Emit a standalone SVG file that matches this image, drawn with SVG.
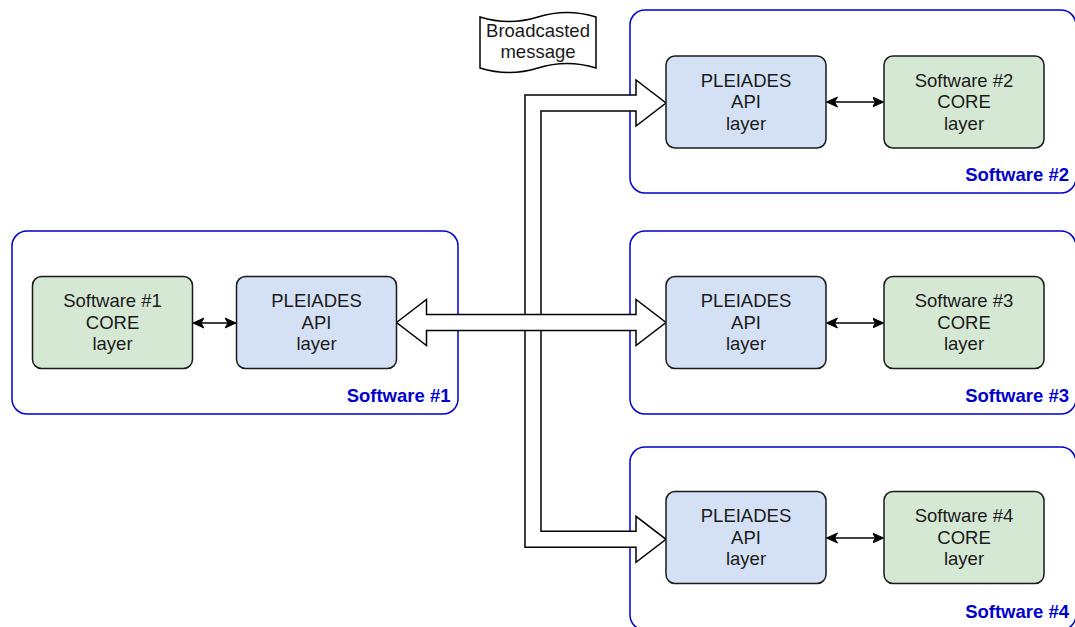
<svg xmlns="http://www.w3.org/2000/svg" width="1075" height="627" viewBox="0 0 1075 627">
  <style>
    .container { fill: none; stroke: #0000CC; stroke-width: 1.5; }
    .clabel { font-family: "Liberation Sans", Arial, sans-serif; font-size: 18.5px; font-weight: bold; fill: #0000CC; text-anchor: end; }
    .api { fill: #D4E1F5; stroke: #1a1a1a; stroke-width: 1.5; }
    .core { fill: #D5E8D4; stroke: #1a1a1a; stroke-width: 1.5; }
    .txt { font-family: "Liberation Sans", Arial, sans-serif; font-size: 18.5px; fill: #1a1a1a; text-anchor: middle; }
    .flex { fill: #ffffff; stroke: #000000; stroke-width: 1.5; stroke-linejoin: miter; }
    .link { stroke: #000000; stroke-width: 1.5; fill: none; marker-start: url(#ah); marker-end: url(#ah); }
  </style>
  <defs>
    <marker id="ah" markerUnits="userSpaceOnUse" markerWidth="14" markerHeight="12" refX="10.5" refY="5.5" orient="auto-start-reverse" viewBox="0 0 14 11">
      <path d="M0,0.5 L11,5.5 L0,10.5 L3,5.5 Z" fill="#000000" stroke="#000000" stroke-width="1"/>
    </marker>
  </defs>

  <rect width="1075" height="627" fill="#ffffff"/>

  <g id="containers">
    <g id="software1">
      <rect class="container" x="12" y="231" width="446" height="183" rx="15"/>
      <text class="clabel" x="450.5" y="402">Software #1</text>
    </g>
    <g id="software2">
      <rect class="container" x="630" y="10" width="446" height="183" rx="15"/>
      <text class="clabel" x="1069" y="181">Software #2</text>
    </g>
    <g id="software3">
      <rect class="container" x="630" y="231" width="446" height="183" rx="15"/>
      <text class="clabel" x="1069" y="402">Software #3</text>
    </g>
    <g id="software4">
      <rect class="container" x="630" y="447" width="446" height="183" rx="15"/>
      <text class="clabel" x="1069" y="618">Software #4</text>
    </g>
  </g>

  <g id="connectors">
    <path class="flex" d="M525,95 L636,95 L636,80 L666,103 L636,126 L636,111 L541,111 L541,531.3 L636,531.3 L636,516.3 L666,539.3 L636,562.3 L636,547.3 L525,547.3 Z"/>
    <path class="flex" d="M396.5,322.5 L426.5,299.5 L426.5,314.5 L636,314.5 L636,299.5 L666,322.5 L636,345.5 L636,330.5 L426.5,330.5 L426.5,345.5 Z"/>
    <line class="link" x1="193.5" y1="323" x2="235.5" y2="323"/>
    <line class="link" x1="827" y1="102" x2="883" y2="102"/>
    <line class="link" x1="827" y1="323" x2="883" y2="323"/>
    <line class="link" x1="827" y1="538" x2="883" y2="538"/>
  </g>

  <g id="broadcast">
    <path d="M480,17 Q509,26 538,17 Q567,8 596,17 L596,68 Q567,59 538,68 Q509,77 480,68 Z" fill="#ffffff" stroke="#000000" stroke-width="1.5"/>
    <text class="txt" x="538" y="37">Broadcasted</text>
    <text class="txt" x="538" y="58">message</text>
  </g>

  <g id="core1">
    <rect class="core" x="32.5" y="276.5" width="160" height="92" rx="9"/>
    <text class="txt" x="112.5" y="307">Software #1</text>
    <text class="txt" x="112.5" y="328.5">CORE</text>
    <text class="txt" x="112.5" y="350">layer</text>
  </g>
  <g id="api1">
    <rect class="api" x="236.5" y="276.5" width="160" height="92" rx="9"/>
    <text class="txt" x="316.5" y="307">PLEIADES</text>
    <text class="txt" x="316.5" y="328.5">API</text>
    <text class="txt" x="316.5" y="350">layer</text>
  </g>

  <g id="api2">
    <rect class="api" x="666" y="56" width="160" height="92" rx="9"/>
    <text class="txt" x="746" y="86.5">PLEIADES</text>
    <text class="txt" x="746" y="108">API</text>
    <text class="txt" x="746" y="129.5">layer</text>
  </g>
  <g id="core2">
    <rect class="core" x="884" y="56" width="160" height="92" rx="9"/>
    <text class="txt" x="964" y="86.5">Software #2</text>
    <text class="txt" x="964" y="108">CORE</text>
    <text class="txt" x="964" y="129.5">layer</text>
  </g>

  <g id="api3">
    <rect class="api" x="666" y="276.5" width="160" height="92" rx="9"/>
    <text class="txt" x="746" y="307">PLEIADES</text>
    <text class="txt" x="746" y="328.5">API</text>
    <text class="txt" x="746" y="350">layer</text>
  </g>
  <g id="core3">
    <rect class="core" x="884" y="276.5" width="160" height="92" rx="9"/>
    <text class="txt" x="964" y="307">Software #3</text>
    <text class="txt" x="964" y="328.5">CORE</text>
    <text class="txt" x="964" y="350">layer</text>
  </g>

  <g id="api4">
    <rect class="api" x="666" y="491.5" width="160" height="92" rx="9"/>
    <text class="txt" x="746" y="522">PLEIADES</text>
    <text class="txt" x="746" y="543.5">API</text>
    <text class="txt" x="746" y="565">layer</text>
  </g>
  <g id="core4">
    <rect class="core" x="884" y="491.5" width="160" height="92" rx="9"/>
    <text class="txt" x="964" y="522">Software #4</text>
    <text class="txt" x="964" y="543.5">CORE</text>
    <text class="txt" x="964" y="565">layer</text>
  </g>
</svg>
